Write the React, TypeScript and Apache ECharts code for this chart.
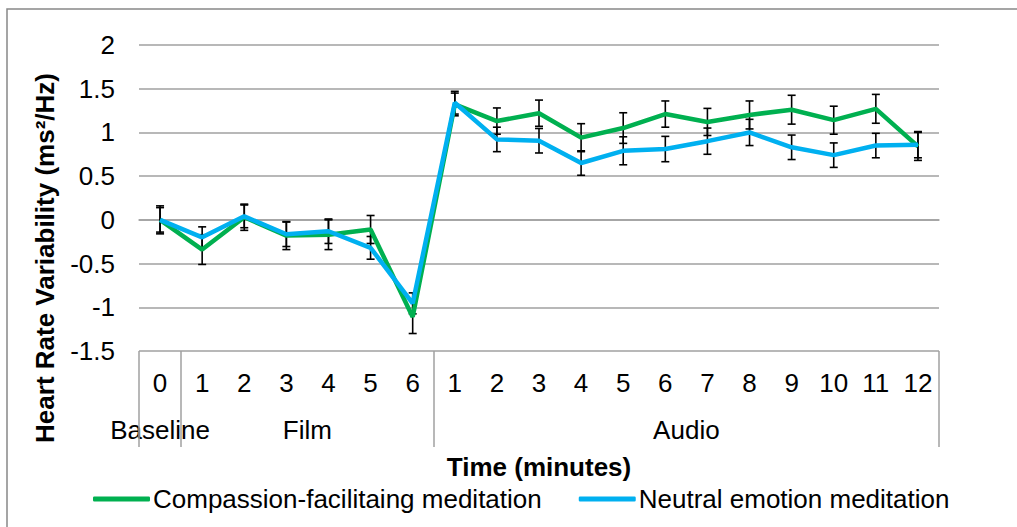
import React, { useEffect, useRef } from 'react';
import * as echarts from 'echarts';

const minuteLabels = ['0', '1', '2', '3', '4', '5', '6', '1', '2', '3', '4', '5', '6', '7', '8', '9', '10', '11', '12'];
const phaseGroups = [
  { name: 'Baseline', from: 0, to: 0 },
  { name: 'Film', from: 1, to: 6 },
  { name: 'Audio', from: 7, to: 18 },
];
const compassion = [0, -0.34, 0.03, -0.18, -0.17, -0.11, -1.11, 1.32, 1.13, 1.22, 0.94, 1.05, 1.21, 1.12, 1.2, 1.26, 1.14, 1.27, 0.84];
const compassionErr = [0.16, 0.17, 0.15, 0.16, 0.17, 0.16, 0.19, 0.13, 0.15, 0.15, 0.16, 0.175, 0.15, 0.155, 0.16, 0.165, 0.16, 0.165, 0.16];
const neutral = [0, -0.2, 0.04, -0.165, -0.13, -0.32, -0.955, 1.34, 0.92, 0.905, 0.65, 0.79, 0.81, 0.9, 1.0, 0.83, 0.74, 0.85, 0.86];
const neutralErr = [0.14, 0.12, 0.13, 0.14, 0.14, 0.13, 0.12, 0.13, 0.14, 0.14, 0.14, 0.16, 0.145, 0.15, 0.15, 0.14, 0.14, 0.14, 0.15];
const seriesNames = ['Compassion-facilitaing meditation', 'Neutral emotion meditation'];
const seriesColors = ['#00B050', '#00B0F0'];
const yMin = -1.5;
const yMax = 2;
const yStep = 0.5;

const FONT = '"Liberation Sans", Arial, sans-serif';
const GRID = '#A0A0A0';

function errorSeries(name: string, vals: number[], errs: number[]) {
  return {
    type: 'custom',
    name: name + ' error',
    z: 2,
    silent: true,
    encode: { x: 0, y: [1, 2] },
    data: vals.map((v, i) => [i, v - errs[i], v + errs[i]]),
    renderItem: (params: any, api: any) => {
      const x = api.value(0);
      const lo = api.coord([x, api.value(1)]);
      const hi = api.coord([x, api.value(2)]);
      const cap = 4;
      const style = { stroke: '#000', lineWidth: 1.6 };
      return {
        type: 'group',
        children: [
          { type: 'line', shape: { x1: lo[0], y1: lo[1], x2: hi[0], y2: hi[1] }, style },
          { type: 'line', shape: { x1: lo[0] - cap, y1: lo[1], x2: lo[0] + cap, y2: lo[1] }, style },
          { type: 'line', shape: { x1: hi[0] - cap, y1: hi[1], x2: hi[0] + cap, y2: hi[1] }, style },
        ],
      };
    },
  };
}

export default function App() {
  const ref = useRef<HTMLDivElement>(null);
  useEffect(() => {
    const chart = echarts.init(ref.current!, null, { renderer: 'svg' });
    chart.setOption({
      animation: false,
      backgroundColor: '#fff',
      grid: { left: 139, right: 78, top: 45, bottom: 176 },
      xAxis: {
        type: 'category',
        data: minuteLabels,
        boundaryGap: true,
        axisLine: { lineStyle: { color: GRID, width: 1.5 } },
        axisTick: { show: false },
        axisLabel: { interval: 0, fontSize: 26, fontFamily: FONT, color: '#000', margin: 19, lineHeight: 26 },
        splitLine: { show: false },
      },
      yAxis: {
        type: 'value',
        min: yMin,
        max: yMax,
        interval: yStep,
        axisLine: { show: false },
        axisTick: { show: false },
        axisLabel: { fontSize: 26, fontFamily: FONT, color: '#000', margin: 24 },
        splitLine: { lineStyle: { color: GRID, width: 1.5 } },
      },
      legend: {
        data: seriesNames,
        left: 88,
        top: 481,
        itemWidth: 57,
        itemHeight: 5,
        itemGap: 37,
        icon: 'roundRect',
        textStyle: { fontSize: 26, fontFamily: FONT, color: '#000', padding: [0, 0, 0, -2] },
      },
      series: [
        errorSeries(seriesNames[0], compassion, compassionErr),
        {
          type: 'line',
          name: seriesNames[0],
          data: compassion,
          symbol: 'none',
          z: 3,
          color: seriesColors[0],
          lineStyle: { width: 4.5, color: seriesColors[0] },
        },
        errorSeries(seriesNames[1], neutral, neutralErr),
        {
          type: 'line',
          name: seriesNames[1],
          data: neutral,
          symbol: 'none',
          z: 4,
          color: seriesColors[1],
          lineStyle: { width: 4.5, color: seriesColors[1] },
        },
      ],
    });

    const px = (i: number) => chart.convertToPixel({ xAxisIndex: 0 }, i) as number;
    const half = (px(1) - px(0)) / 2;
    const axisY = chart.convertToPixel({ yAxisIndex: 0 }, yMin) as number;
    const graphics: any[] = [
      {
        type: 'rect',
        silent: true,
        z: -10,
        shape: { x: 7, y: 9, width: 1200, height: 700 },
        style: { fill: 'none', stroke: '#888', lineWidth: 1.5 },
      },
      {
        type: 'text',
        x: 45,
        y: 258,
        rotation: Math.PI / 2,
        style: { text: 'Heart Rate Variability (ms²/Hz)', font: `bold 26px ${FONT}`, align: 'center', verticalAlign: 'middle', fill: '#000' },
      },
      {
        type: 'text',
        x: (px(0) + px(minuteLabels.length - 1)) / 2,
        y: 467,
        style: { text: 'Time (minutes)', font: `bold 26px ${FONT}`, align: 'center', verticalAlign: 'middle', fill: '#000' },
      },
    ];
    const bounds = new Set<number>();
    phaseGroups.forEach((g) => {
      bounds.add(g.from);
      bounds.add(g.to + 1);
      graphics.push({
        type: 'text',
        x: (px(g.from) + px(g.to)) / 2,
        y: axisY + 79,
        style: { text: g.name, font: `26px ${FONT}`, align: 'center', verticalAlign: 'middle', fill: '#000' },
      });
    });
    bounds.forEach((b) => {
      const x = Math.round(px(0) - half + b * 2 * half);
      graphics.push({
        type: 'line',
        silent: true,
        shape: { x1: x, y1: axisY, x2: x, y2: axisY + 96 },
        style: { stroke: GRID, lineWidth: 1.5 },
      });
    });
    chart.setOption({ graphic: graphics });
    return () => chart.dispose();
  }, []);
  return <div ref={ref} style={{ position: 'absolute', left: 0, top: 0, width: 1017, height: 527 }} />;
}
